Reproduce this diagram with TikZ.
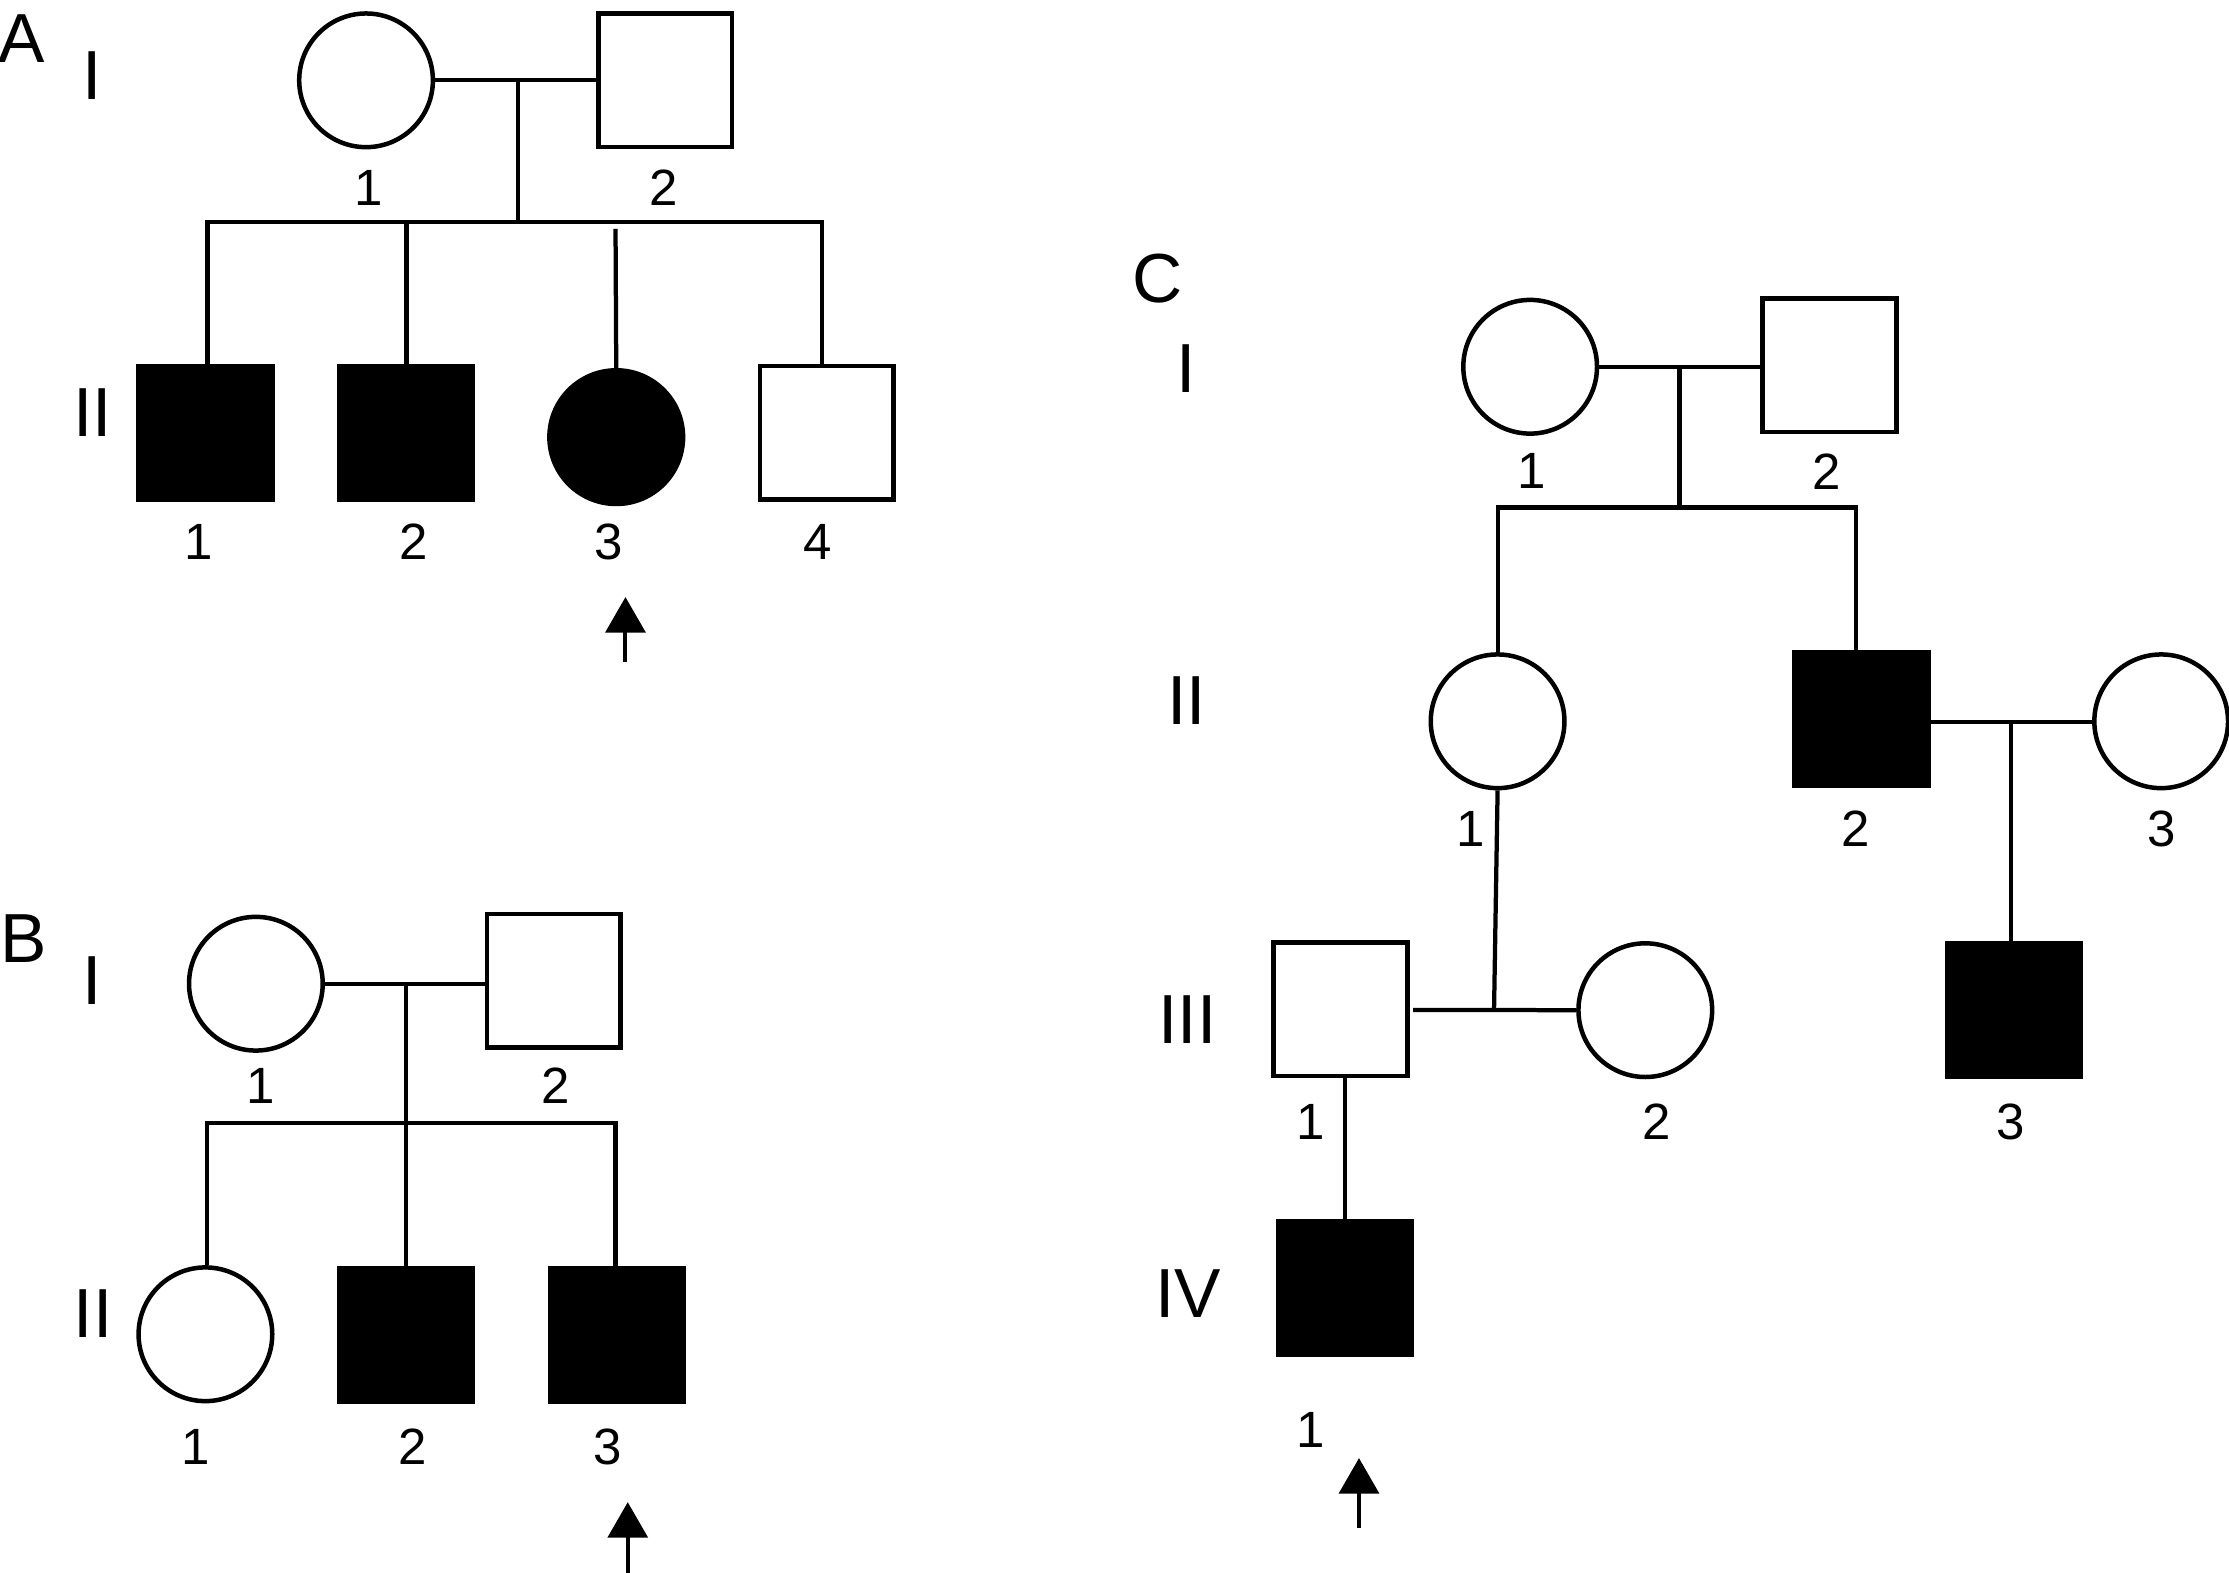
\documentclass[tikz,border=0pt]{standalone}
\usepackage{fontspec}
\setmainfont{Liberation Sans}
\usetikzlibrary{arrows.meta}
\begin{document}
\begin{tikzpicture}[x=0.01cm,y=-0.01cm, line width=0.85pt,
  male/.style={draw, rectangle, minimum width=0.94cm, minimum height=0.94cm, inner sep=0pt, line width=0.9pt},
  female/.style={draw, circle, minimum size=0.94cm, inner sep=0pt, line width=0.9pt},
  aff/.style={fill=black},
  num/.style={font=\fontsize{10.2}{11}\selectfont, inner sep=0pt},
  gen/.style={font=\fontsize{13.9}{14}\selectfont, inner sep=0pt},
  proband/.style={-{Triangle[width=0.28cm,length=0.25cm]}, line width=0.8pt}]
\useasboundingbox (0,0) rectangle (1568,1106);

% ---------------- Panel A ----------------
\node[gen] (Alab) at (15,27) {A};
\node[gen] (AgI) at (65,53) {I};
\node[gen] (AgII) at (65,290) {II};
\node[female] (AI1) at (257.5,56.5) {};
\node[male] (AI2) at (468,56.5) {};
\draw (AI1) -- (AI2);
\coordinate (Am) at (364.5,56.5);
\coordinate (As) at (364.5,156);
\draw (Am) -- (As);
\coordinate (As1) at (146,156);
\coordinate (As2) at (286,156);
\coordinate (As3) at (433,161);
\coordinate (As4) at (578,156);
\node[male,aff] (AII1) at (144.5,304.5) {};
\node[male,aff] (AII2) at (285.5,304.5) {};
\node[female,aff] (AII3) at (433.5,307.5) {};
\node[male] (AII4) at (581.5,304.5) {};
\draw (As1 |- AII1.north) -- (As1) -- (As4) -- (As4 |- AII4.north);
\draw (As2) -- (As2 |- AII2.north);
\draw (As3) -- (AII3.north);
\node[num] (AnI1) at (259,132) {1};
\node[num] (AnI2) at (467,132) {2};
\node[num] (AnII1) at (140,381) {1};
\node[num] (AnII2) at (291,381) {2};
\node[num] (AnII3) at (428,381) {3};
\node[num] (AnII4) at (575,381) {4};
\coordinate (pA0) at (440,466);
\coordinate (pA1) at (440,420);
\draw[proband] (pA0) -- (pA1);

% ---------------- Panel B ----------------
\node[gen] (Blab) at (17,660) {B};
\node[gen] (BgI) at (65,690) {I};
\node[gen] (BgII) at (65.5,924) {II};
\node[female] (BI1) at (180,692) {};
\node[male] (BI2) at (389.5,690) {};
\draw (BI1) -- (BI1 -| BI2.west);
\coordinate (Bm) at (285.4,692);
\coordinate (Bs) at (285.4,790);
\coordinate (Bs1) at (145.4,790);
\coordinate (Bs3) at (433,790);
\node[female] (BII1) at (144.5,938.6) {};
\node[male,aff] (BII2) at (285.7,939) {};
\node[male,aff] (BII3) at (433.8,939) {};
\draw (Bm) -- (Bs |- BII2.north);
\draw (Bs1 |- BII1.north) -- (Bs1) -- (Bs3) -- (Bs3 |- BII3.north);
\node[num] (BnI1) at (183.4,764) {1};
\node[num] (BnI2) at (391,764) {2};
\node[num] (BnII1) at (138,1018) {1};
\node[num] (BnII2) at (290,1018) {2};
\node[num] (BnII3) at (427.4,1018) {3};
\coordinate (pB0) at (441.6,1108);
\coordinate (pB1) at (441.6,1056.7);
\draw[proband] (pB0) -- (pB1);

% ---------------- Panel C ----------------
\node[gen] (Clab) at (814,196) {C};
\node[gen] (CgI) at (834.5,259) {I};
\node[gen] (CgII) at (834.6,493) {II};
\node[gen] (CgIII) at (835.4,717) {III};
\node[gen] (CgIV) at (835.6,910) {IV};
\node[female] (CI1) at (1076.4,258) {};
\node[male] (CI2) at (1287,257) {};
\draw (CI1) -- (CI1 -| CI2.west);
\coordinate (Cm) at (1181.4,258);
\coordinate (Cs) at (1181.4,357);
\draw (Cm) -- (Cs);
\coordinate (Cs1) at (1053.8,357);
\coordinate (Cs2) at (1305.5,357);
\node[female] (CII1) at (1053.5,507.4) {};
\node[male,aff] (CII2) at (1309.5,505.6) {};
\node[female] (CII3) at (1520.3,507.4) {};
\draw (Cs1 |- CII1.north) -- (Cs1) -- (Cs2) -- (Cs2 |- CII2.north);
\draw (CII2.east |- 0,508) -- (CII3.west |- 0,508);
\coordinate (Cd2) at (1414.4,508);
\node[male] (CIII1) at (943,710) {};
\node[female] (CIII2) at (1157.4,710.6) {};
\node[male,aff] (CIII3) at (1416.5,710.3) {};
\draw (Cd2) -- (Cd2 |- CIII3.north);
\coordinate (CIIIm) at (994,710.5);
\coordinate (CIIId) at (1051,710.5);
\draw (CIIIm) -- (CIII2.west);
\draw (CII1.south) -- (CIIId);
\node[male,aff] (CIV1) at (946,906) {};
\draw (CIV1.north |- CIII1.south) -- (CIV1.north);
\node[num] (CnI1) at (1077.6,331.5) {1};
\node[num] (CnI2) at (1285.3,331.5) {2};
\node[num] (CnII1) at (1034.6,583) {1};
\node[num] (CnII2) at (1305.6,583) {2};
\node[num] (CnII3) at (1520.8,583) {3};
\node[num] (CnIII1) at (922.2,789) {1};
\node[num] (CnIII2) at (1165.3,789) {2};
\node[num] (CnIII3) at (1414.4,789) {3};
\node[num] (CnIV1) at (922.2,1005.6) {1};
\coordinate (pC0) at (956,1075);
\coordinate (pC1) at (956,1025.7);
\draw[proband] (pC0) -- (pC1);
\end{tikzpicture}
\end{document}
